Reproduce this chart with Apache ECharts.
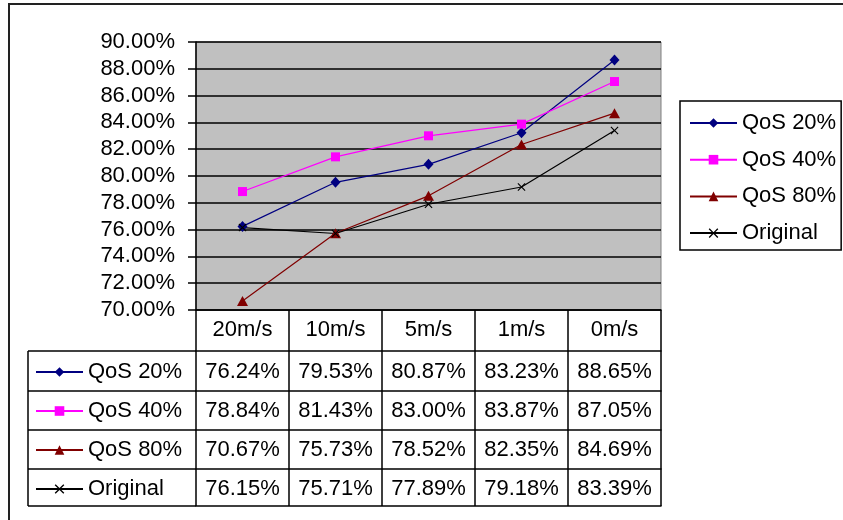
<!DOCTYPE html>
<html>
<head>
<meta charset="utf-8">
<script src="https://cdn.jsdelivr.net/npm/echarts@6/dist/echarts.min.js"></script>
<style>
html,body{margin:0;padding:0;background:#fff;}
#c{width:843px;height:520px;}
</style>
</head>
<body>
<div id="c"></div>
<script>
var categories = ['20m/s', '10m/s', '5m/s', '1m/s', '0m/s'];
var seriesNames = ['QoS 20%', 'QoS 40%', 'QoS 80%', 'Original'];
var qos20 = [76.24, 79.53, 80.87, 83.23, 88.65];
var qos40 = [78.84, 81.43, 83.00, 83.87, 87.05];
var qos80 = [70.67, 75.73, 78.52, 82.35, 84.69];
var original = [76.15, 75.71, 77.89, 79.18, 83.39];
var yTicks = {min: 70, max: 90, interval: 2};

var seriesData = [qos20, qos40, qos80, original];
var colors = ['#000080', '#FF00FF', '#800000', '#000000'];
var symbols = ['diamond', 'rect', 'triangle',
  'path://M0,1L1,0L5,4L9,0L10,1L6,5L10,9L9,10L5,6L1,10L0,9L4,5Z'];
var symbolSizes = [[10, 11], 9, [11, 10], 8];

var FONT = 'Liberation Sans, Arial, sans-serif';
var FS = 22;
var chart = echarts.init(document.getElementById('c'));

function fmt(v) { return v.toFixed(2) + '%'; }

var gridLeft = 196, gridTop = 42, gridW = 465, gridH = 268;
var rowLines = [351, 391, 430, 469, 506];
var rowCenters = [372, 411, 450, 489];
var plotBottom = gridTop + gridH;

var xAxes = [{
  type: 'category', data: categories, position: 'bottom', gridIndex: 0,
  boundaryGap: true,
  axisLine: {show: true, lineStyle: {color: '#000', width: 1.5}},
  axisTick: {show: true, interval: 0, length: rowLines[0] - plotBottom, lineStyle: {color: '#000', width: 1.5}},
  axisLabel: {show: true, interval: 0, color: '#000', fontSize: FS, fontFamily: FONT, margin: 9}
}];
seriesData.forEach(function (arr, i) {
  xAxes.push({
    type: 'category', data: arr.map(fmt), position: 'bottom', gridIndex: 0,
    offset: rowLines[i] - plotBottom,
    boundaryGap: true,
    axisLine: {show: true, lineStyle: {color: '#000', width: 1.5}},
    axisTick: {show: true, interval: 0, length: rowLines[i + 1] - rowLines[i], lineStyle: {color: '#000', width: 1.5}},
    axisLabel: {show: true, interval: 0, color: '#000', fontSize: FS, fontFamily: FONT,
      margin: rowCenters[i] - rowLines[i] - 11}
  });
});
xAxes.push({
  type: 'category', data: categories, position: 'bottom', gridIndex: 0,
  offset: rowLines[4] - plotBottom,
  axisLine: {show: true, lineStyle: {color: '#000', width: 1.5}},
  axisTick: {show: false}, axisLabel: {show: false}
});

var legends = [{
  orient: 'vertical', left: 680, top: 101,
  padding: [11, 5, 6, 9],
  borderColor: '#000', borderWidth: 1.5,
  itemWidth: 47, itemHeight: 12, itemGap: 14.7,
  selectedMode: false,
  textStyle: {color: '#000', fontSize: FS, fontFamily: FONT, lineHeight: 22},
  data: seriesNames
}];
seriesNames.forEach(function (n, i) {
  legends.push({
    orient: 'vertical', left: 35, top: rowCenters[i] - 11,
    padding: 0, itemWidth: 47, itemHeight: 12,
    selectedMode: false,
    textStyle: {color: '#000', fontSize: FS, fontFamily: FONT, lineHeight: 22},
    data: [n]
  });
});

var series = seriesData.map(function (arr, i) {
  return {
    name: seriesNames[i], type: 'line', data: arr, xAxisIndex: 0, yAxisIndex: 0,
    symbol: symbols[i], symbolSize: symbolSizes[i],
    lineStyle: {color: colors[i], width: 1.2},
    itemStyle: {color: colors[i]},
    animation: false
  };
});

var lineStyle = {stroke: '#000', lineWidth: 1.5};
var graphics = [
  {type: 'rect', shape: {x: 9, y: 4, width: 900, height: 600}, style: {fill: null, stroke: '#222', lineWidth: 2}, silent: true, z: -1},
  {type: 'line', shape: {x1: 28, y1: rowLines[0], x2: gridLeft, y2: rowLines[0]}, style: lineStyle},
  {type: 'line', shape: {x1: 28, y1: rowLines[4], x2: gridLeft, y2: rowLines[4]}, style: lineStyle},
  {type: 'line', shape: {x1: 28, y1: rowLines[0], x2: 28, y2: rowLines[4]}, style: lineStyle}
];
[1, 2, 3].forEach(function (k) {
  graphics.push({type: 'line', shape: {x1: 28, y1: rowLines[k], x2: gridLeft, y2: rowLines[k]}, style: lineStyle});
});

chart.setOption({
  animation: false,
  backgroundColor: '#fff',
  grid: {left: gridLeft, top: gridTop, width: gridW, height: gridH, show: true,
    backgroundColor: '#C0C0C0', borderColor: '#808080', borderWidth: 1},
  legend: legends,
  xAxis: xAxes,
  yAxis: {
    type: 'value', min: yTicks.min, max: yTicks.max, interval: yTicks.interval,
    axisLine: {show: true, lineStyle: {color: '#000', width: 1.5}},
    axisTick: {show: true, length: 8, lineStyle: {color: '#000', width: 1.5}},
    splitLine: {show: true, lineStyle: {color: '#000', width: 1.5}},
    axisLabel: {color: '#000', fontSize: FS, fontFamily: FONT, margin: 21, formatter: fmt}
  },
  series: series,
  graphic: graphics
});
</script>
</body>
</html>
